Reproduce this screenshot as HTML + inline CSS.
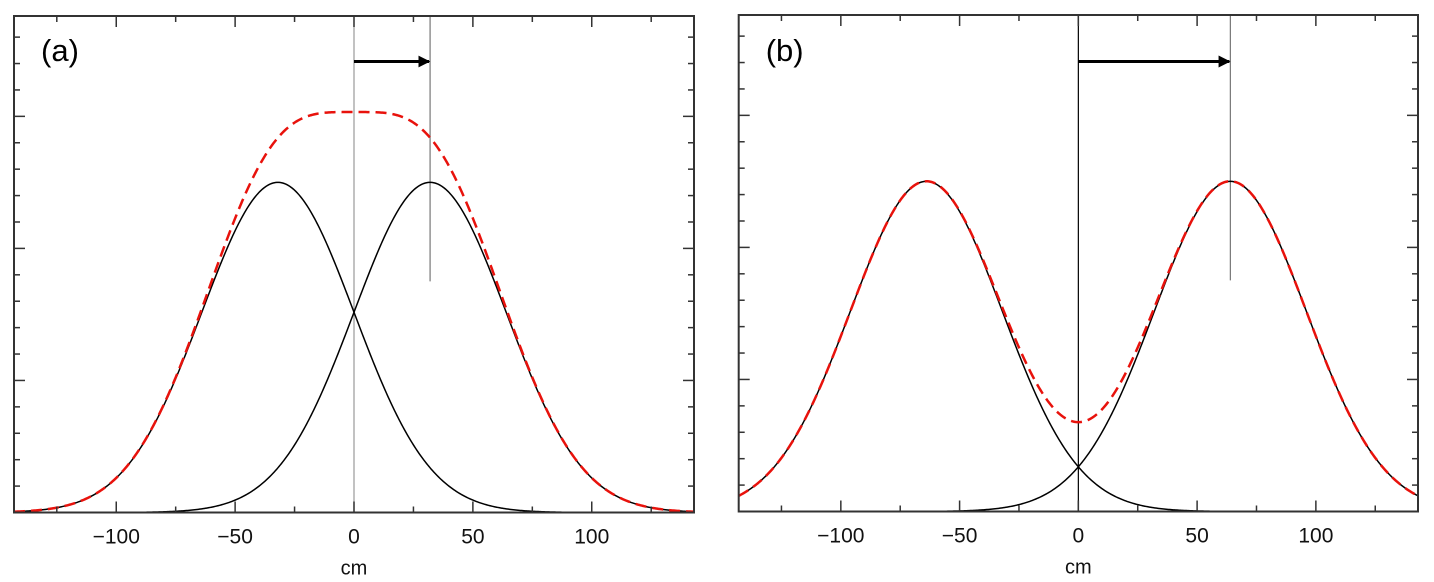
<!DOCTYPE html>
<html><head><meta charset="utf-8"><style>
html,body{margin:0;padding:0;background:#fff;}
svg{display:block;font-family:"Liberation Sans",sans-serif;}
</style></head><body>
<svg id="chart" width="1434" height="582"></svg>
<script>
const xTickMajor=[-100,-50,0,50,100];
const xTickMinor=[-125,-75,-25,25,75,125];
const xTickLabels=["\u2212100","\u221250","0","50","100"];
const yTickMajor=[1,2,3];
const yTickMinor=[0.2,0.4,0.6,0.8,1.2,1.4,1.6,1.8,2.2,2.4,2.6,2.8,3.2,3.4,3.6];
const panelLabels=["(a)","(b)"];
const peakShifts=[32,64];
const peakHeights=[2.5,2.5];
const sigmas=[32,32];
const markerTop=[1.75,1.75];
const xDomain=[-143,143], yDomain=[0,3.76];
const panels=[{l:14,r:694,t:16,b:512.5,zeroColor:"#999"},{l:738.7,r:1418,t:15,b:511.5,zeroColor:"#000"}];
const NS="http://www.w3.org/2000/svg";
const svg=document.getElementById('chart');
function mk(tag,attrs,parent){const e=document.createElementNS(NS,tag);for(const k in attrs)e.setAttribute(k,attrs[k]);(parent||svg).appendChild(e);return e;}
const defs=mk('defs',{});
const mrk=mk('marker',{id:'ah',markerWidth:'4',markerHeight:'4',refX:'3.6',refY:'2',orient:'auto',markerUnits:'strokeWidth'},defs);
mk('path',{d:'M0,0 L4,2 L0,4 Z',fill:'#000'},mrk);
panels.forEach((p,i)=>{
  const X=v=>p.l+(v-xDomain[0])/(xDomain[1]-xDomain[0])*(p.r-p.l);
  const Y=v=>p.b-(v-yDomain[0])/(yDomain[1]-yDomain[0])*(p.b-p.t);
  const g=mk('g',{});
  
  
  const s=peakShifts[i],h=peakHeights[i],sg=sigmas[i];
  const gauss=(x,m)=>h*Math.exp(-(x-m)*(x-m)/(2*sg*sg));
  const path=f=>{let d='';for(let x=xDomain[0];x<=xDomain[1]+0.01;x+=0.5){d+=(d?'L':'M')+X(x).toFixed(2)+','+Y(f(x)).toFixed(2);}return d;};
  const z=mk('line',{x1:X(0),x2:X(0),y1:p.t,y2:p.b,stroke:p.zeroColor,'stroke-width':1.2},g);
  
  
  const pl=mk('line',{x1:X(s),x2:X(s),y1:p.t,y2:Y(markerTop[i]),stroke:'#777','stroke-width':1.2},g);
  
  
  const ar=mk('line',{x1:X(0),x2:X(s)-1,y1:61.5,y2:61.5,stroke:'#000','stroke-width':3,'marker-end':'url(#ah)'},g);
  
  
  const c1=mk('path',{d:path(x=>gauss(x,-s)),fill:'none',stroke:'#000','stroke-width':1.5},g);
  
  
  const c2=mk('path',{d:path(x=>gauss(x,s)),fill:'none',stroke:'#000','stroke-width':1.5},g);
  
  
  const c3=mk('path',{d:path(x=>gauss(x,-s)+gauss(x,s)),fill:'none',stroke:'#e8120c','stroke-width':2.5,'stroke-dasharray':'11,6'},g);
  
  
  const fr=mk('rect',{x:p.l,y:p.t,width:p.r-p.l,height:p.b-p.t,fill:'none',stroke:'#333','stroke-width':2},g);
  
  
  const tk=(x1,y1,x2,y2)=>mk('line',{x1,y1,x2,y2,stroke:'#333','stroke-width':1.5},g);
  xTickMajor.forEach((v,j)=>{tk(X(v),p.b,X(v),p.b-11);tk(X(v),p.t,X(v),p.t+11);
    const t=mk('text',{x:X(v),y:p.b+31,'text-anchor':'middle','font-size':21,fill:'#111'},g);t.textContent=xTickLabels[j];
    
    });
  xTickMinor.forEach(v=>{tk(X(v),p.b,X(v),p.b-6);tk(X(v),p.t,X(v),p.t+6);});
  yTickMajor.forEach(v=>{tk(p.l,Y(v),p.l+11,Y(v));tk(p.r,Y(v),p.r-11,Y(v));});
  yTickMinor.forEach(v=>{tk(p.l,Y(v),p.l+6,Y(v));tk(p.r,Y(v),p.r-6,Y(v));});
  const xl=mk('text',{x:X(0),y:p.b+62,'text-anchor':'middle','font-size':20,fill:'#111'},g);xl.textContent='cm';
  
  
  const lb=mk('text',{x:p.l+27,y:61,'font-size':31,fill:'#000'},g);lb.textContent=panelLabels[i];
  
  
});
</script>
</body></html>
